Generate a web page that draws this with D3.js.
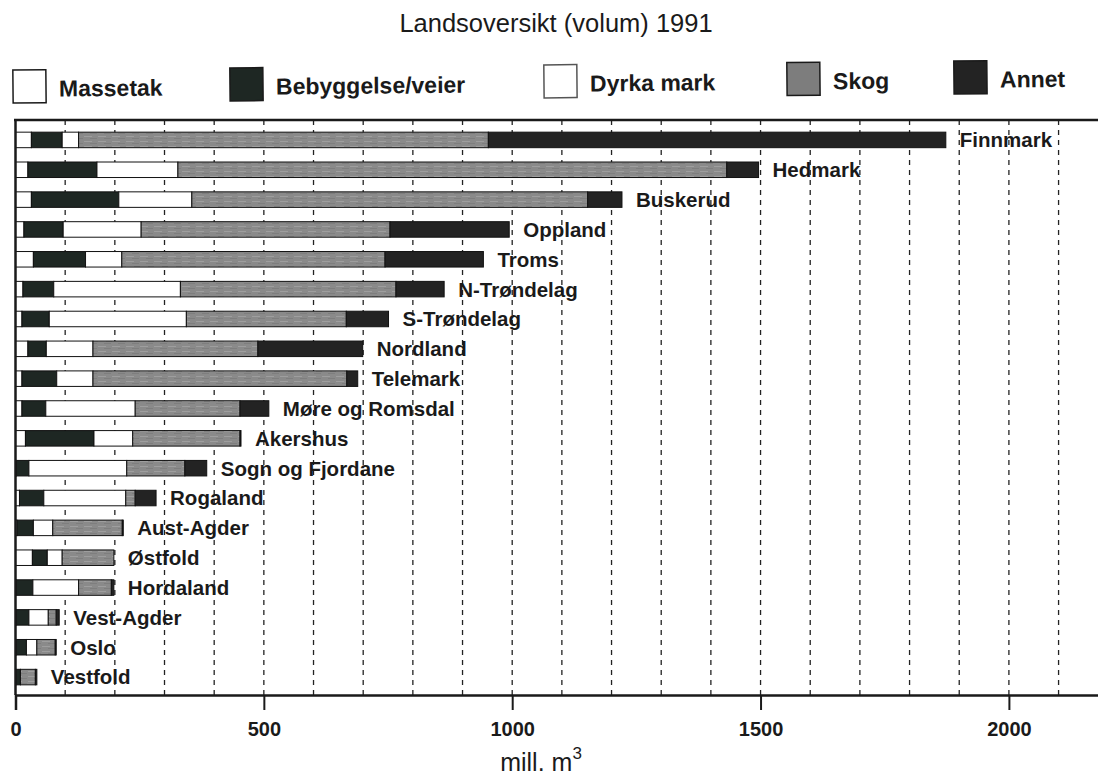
<!DOCTYPE html>
<html>
<head>
<meta charset="utf-8">
<script src="https://cdn.jsdelivr.net/npm/d3@7"></script>
<style>
body { margin: 0; background: #fff; }
text { font-family: "Liberation Sans", Arial, Helvetica, sans-serif; fill: #1a1a1a; }
</style>
</head>
<body>
<div id="chart"></div>
<script>
var width = 1098,
    height = 776;

// fylker, largest first
var fylker = ['Finnmark', 'Hedmark', 'Buskerud', 'Oppland', 'Troms', 'N-Trøndelag', 'S-Trøndelag',
    'Nordland', 'Telemark', 'Møre og Romsdal', 'Akershus', 'Sogn og Fjordane', 'Rogaland',
    'Aust-Agder', 'Østfold', 'Hordaland', 'Vest-Agder', 'Oslo', 'Vestfold'];

// mill. m3
var massetak   = [32, 25, 32, 17, 36, 15, 13, 25, 13, 13, 20, 2, 8, 3, 34, 2, 2, 2, 1];
var bebyggelse = [62, 139, 176, 79, 105, 62, 55, 37, 70, 48, 138, 25, 49, 33, 30, 33, 25, 20, 9];
var dyrka      = [33, 163, 147, 157, 73, 255, 276, 94, 73, 180, 78, 197, 165, 39, 30, 92, 39, 21, 0];
var skog       = [825, 1105, 797, 501, 530, 434, 322, 332, 511, 211, 216, 117, 19, 140, 104, 66, 16, 37, 30];
var annet      = [921, 64, 69, 240, 198, 97, 85, 211, 22, 58, 2, 44, 42, 2, 0, 5, 6, 2, 3];

var keys = ['Massetak', 'Bebyggelse/veier', 'Dyrka mark', 'Skog', 'Annet'];
var xTicks = [0, 500, 1000, 1500, 2000];
var gridTicks = d3.range(100, 2200, 100);

var rows = fylker.map((f, i) => ({
    fylke: f,
    'Massetak': massetak[i],
    'Bebyggelse/veier': bebyggelse[i],
    'Dyrka mark': dyrka[i],
    'Skog': skog[i],
    'Annet': annet[i]
}));

var svg = d3.select('#chart')
    .append('svg')
    .attr('width', width)
    .attr('height', height);

// grey "skog" fill with a bit of scan texture
var defs = svg.append('defs');
var pat = defs.append('pattern')
    .attr('id', 'skog')
    .attr('patternUnits', 'userSpaceOnUse')
    .attr('width', 14)
    .attr('height', 5);
pat.append('rect').attr('width', 14).attr('height', 5).attr('fill', '#8a8a8a');
pat.append('line').attr('x1', 0).attr('x2', 8).attr('y1', 1.5).attr('y2', 1.5)
    .attr('stroke', '#9e9e9e').attr('stroke-width', 1);
pat.append('line').attr('x1', 6).attr('x2', 13).attr('y1', 3.5).attr('y2', 3.5)
    .attr('stroke', '#7e7e7e').attr('stroke-width', 1);

var fills = {
    'Massetak': '#ffffff',
    'Bebyggelse/veier': '#1e2723',
    'Dyrka mark': '#ffffff',
    'Skog': 'url(#skog)',
    'Annet': '#232323'
};

var x = d3.scaleLinear()
    .domain([0, 2200])
    .range([15.5, 15.5 + 2200 * 0.4967]);

var y = d3.scaleBand()
    .domain(fylker)
    .range([125, 692])
    .paddingInner(0.48)
    .paddingOuter(0.24);

var frameTop = 120,
    axisY = 695;

// title
svg.append('text')
    .attr('x', 556)
    .attr('y', 32)
    .attr('text-anchor', 'middle')
    .style('font-size', '25.5px')
    .text('Landsoversikt (volum) 1991');

// legend (slightly tilted like the scan)
var legendX = [13, 230, 544, 787, 954];
var legend = svg.append('g')
    .attr('transform', 'rotate(-0.55, 13, 88)');
var li = legend.selectAll('g')
    .data(keys)
    .enter()
    .append('g')
    .attr('transform', (d, i) => 'translate(' + legendX[i] + ',70)');
li.append('rect')
    .attr('width', 33)
    .attr('height', 33)
    .attr('fill', d => d === 'Skog' ? '#7d7d7d' : fills[d])
    .attr('stroke', d => d === 'Dyrka mark' ? '#555' : '#1a1a1a')
    .attr('stroke-width', 1.5);
li.append('text')
    .attr('x', 46)
    .attr('y', 27)
    .style('font-size', '23px')
    .style('font-weight', 'bold')
    .text(d => d);

// dashed grid
svg.append('g')
    .selectAll('line')
    .data(gridTicks)
    .enter()
    .append('line')
    .attr('x1', d => x(d))
    .attr('x2', d => x(d))
    .attr('y1', frameTop)
    .attr('y2', axisY)
    .attr('stroke', '#222')
    .attr('stroke-width', 1.3)
    .attr('stroke-dasharray', '5,5');

// stacked bars
var series = d3.stack().keys(keys)(rows);

svg.append('g')
    .selectAll('g')
    .data(series)
    .enter()
    .append('g')
    .attr('fill', d => fills[d.key])
    .selectAll('rect')
    .data(d => d)
    .enter()
    .filter(d => d[1] > d[0])
    .append('rect')
    .attr('x', d => x(d[0]))
    .attr('y', d => y(d.data.fylke))
    .attr('width', d => x(d[1]) - x(d[0]))
    .attr('height', y.bandwidth())
    .attr('stroke', '#111')
    .attr('stroke-width', 1);

// labels at bar ends
svg.append('g')
    .selectAll('text')
    .data(rows)
    .enter()
    .append('text')
    .attr('x', d => x(d3.sum(keys, k => d[k])) + 14)
    .attr('y', d => y(d.fylke) + y.bandwidth() / 2)
    .attr('dy', '0.36em')
    .style('font-size', '20.5px')
    .style('font-weight', 'bold')
    .text(d => d.fylke);

// frame
svg.append('line')
    .attr('x1', 14).attr('x2', width)
    .attr('y1', frameTop).attr('y2', frameTop)
    .attr('stroke', '#1a1a1a').attr('stroke-width', 2.5);
svg.append('line')
    .attr('x1', x(0)).attr('x2', x(0))
    .attr('y1', frameTop).attr('y2', axisY)
    .attr('stroke', '#1a1a1a').attr('stroke-width', 2.5);

// x axis
var axis = svg.append('g')
    .attr('transform', 'translate(0,' + axisY + ')')
    .call(d3.axisBottom(x).tickValues(xTicks).tickFormat(d3.format('d')).tickSize(15).tickPadding(12));
axis.select('.domain')
    .attr('stroke', '#1a1a1a')
    .attr('stroke-width', 2.5);
axis.selectAll('.tick line')
    .attr('stroke', '#1a1a1a')
    .attr('stroke-width', 2);
axis.selectAll('.tick text')
    .attr('fill', '#1a1a1a')
    .style('font-size', '20px')
    .style('font-weight', 'bold')
    .style('font-family', '"Liberation Sans", Arial, sans-serif');

// axis title
var xt = svg.append('text')
    .attr('x', 541)
    .attr('y', 771)
    .attr('text-anchor', 'middle')
    .style('font-size', '25px');
xt.append('tspan').text('mill. m');
xt.append('tspan')
    .attr('dy', -12)
    .style('font-size', '17px')
    .text('3');
</script>
</body>
</html>
